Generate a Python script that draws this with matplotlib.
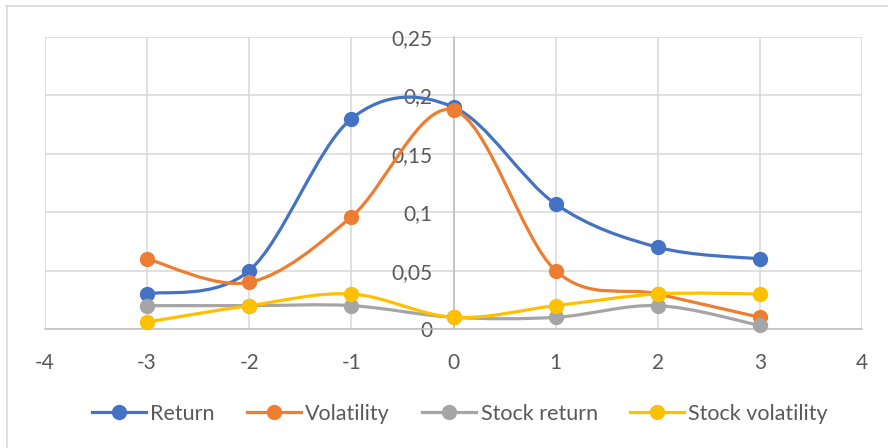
import matplotlib
matplotlib.use("Agg")
import matplotlib.pyplot as plt
from matplotlib.path import Path
from matplotlib.patches import PathPatch
from matplotlib.lines import Line2D
from matplotlib.ticker import FuncFormatter

plt.rcParams['font.family'] = ['Lato', 'DejaVu Sans']
plt.rcParams['axes.unicode_minus'] = False

x_vals = [-3, -2, -1, 0, 1, 2, 3]
ret = [0.030, 0.050, 0.180, 0.190, 0.107, 0.070, 0.060]
vol = [0.060, 0.040, 0.096, 0.1875, 0.050, 0.030, 0.010]
stock_ret = [0.020, 0.020, 0.020, 0.010, 0.010, 0.020, 0.003]
stock_vol = [0.006, 0.020, 0.030, 0.010, 0.020, 0.030, 0.030]

names = ["Return", "Volatility", "Stock return", "Stock volatility"]
colors = ["#4472C4", "#ED7D31", "#A5A5A5", "#FFC000"]
series = [ret, vol, stock_ret, stock_vol]


def smooth_path(xs, ys):
    # excel-like smoothed line: bezier segments through every point
    pts = list(zip(xs, ys))
    n = len(pts)
    verts = [pts[0]]
    codes = [Path.MOVETO]
    for i in range(n - 1):
        p0 = pts[i - 1] if i > 0 else pts[i]
        p1 = pts[i]
        p2 = pts[i + 1]
        p3 = pts[i + 2] if i + 2 < n else pts[i + 1]
        c1 = (p1[0] + (p2[0] - p0[0]) / 6, p1[1] + (p2[1] - p0[1]) / 6)
        c2 = (p2[0] - (p3[0] - p1[0]) / 6, p2[1] - (p3[1] - p1[1]) / 6)
        verts += [c1, c2, p2]
        codes += [Path.CURVE4] * 3
    return Path(verts, codes)


fig = plt.figure(figsize=(8.88, 4.48), dpi=100)
ax = fig.add_axes([45 / 888, 1 - 329 / 448, (862 - 45) / 888, (329 - 37) / 448])

ax.set_xlim(-4, 4)
ax.set_ylim(0, 0.25)
ax.set_xticks(range(-4, 5))
ax.set_yticks([0, 0.05, 0.1, 0.15, 0.2, 0.25])
ax.grid(True, color="#D9D9D9", lw=1.1)
ax.set_axisbelow(True)

for s in ["top", "right"]:
    ax.spines[s].set_visible(False)
ax.spines["left"].set_position(("data", 0))
ax.spines["left"].set_color("#BFBFBF")
ax.spines["left"].set_linewidth(1.1)
ax.spines["bottom"].set_color("#BFBFBF")
ax.spines["bottom"].set_linewidth(1.1)

ax.yaxis.set_major_formatter(FuncFormatter(lambda v, p: ("%g" % round(v, 2)).replace(".", ",")))
ax.tick_params(axis="y", length=0, pad=15, labelsize=15, labelcolor="#595959")
ax.tick_params(axis="x", length=0, pad=17, labelsize=15, labelcolor="#595959")

handles = []
for i, (ys, c, nm) in enumerate(zip(series, colors, names)):
    patch = PathPatch(smooth_path(x_vals, ys), fill=False, edgecolor=c, lw=2.3,
                      zorder=3 + i * 2, capstyle="round", joinstyle="round")
    ax.add_patch(patch)
    ax.plot(x_vals, ys, "o", color=c, markersize=10, zorder=4 + i * 2, clip_on=False)
    handles.append(Line2D([], [], color=c, lw=2.3, marker="o", markersize=10))

fig.legend(handles, names, loc="center", bbox_to_anchor=(460 / 888, 1 - 414 / 448), ncol=4,
           frameon=False, fontsize=15.5, labelcolor="#595959", handlelength=2.5,
           handletextpad=0.2, columnspacing=1.5)

# chart area border
fig.add_artist(Line2D([6 / 888, 1], [1 - 6.5 / 448] * 2, color="#D9D9D9", lw=1.2))
fig.add_artist(Line2D([6.5 / 888] * 2, [0, 1 - 6 / 448], color="#D9D9D9", lw=1.2))

fig.savefig("out.png", dpi=100)
